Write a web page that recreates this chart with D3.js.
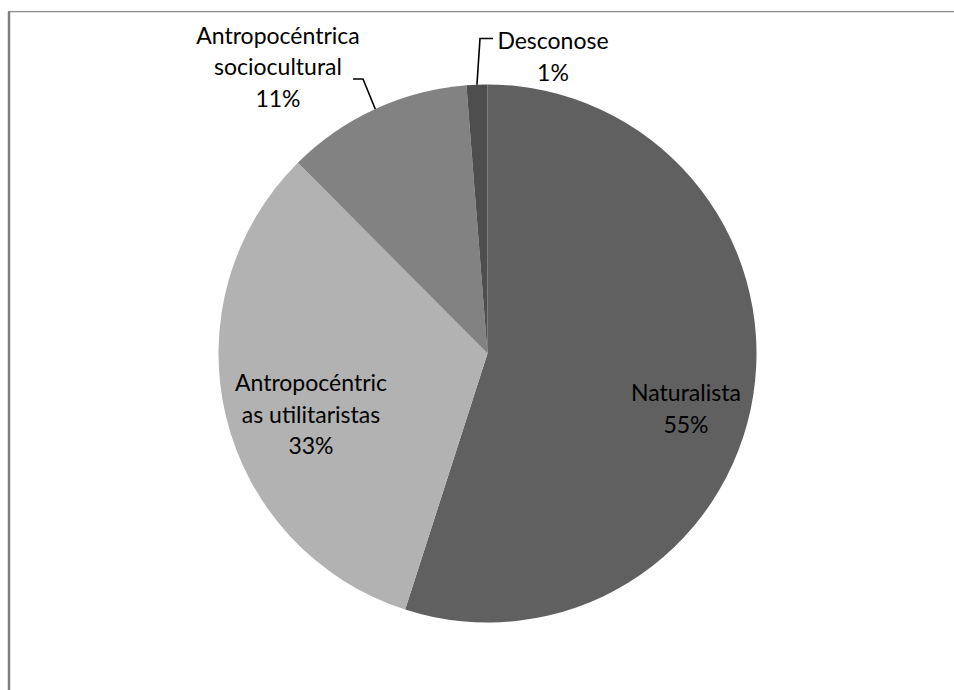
<!DOCTYPE html>
<html>
<head>
<meta charset="utf-8">
<script src="https://cdn.jsdelivr.net/npm/d3@7"></script>
<style>
  html, body { margin: 0; padding: 0; background: #fff; }
  svg { display: block; }
  text { font-family: Lato, "Open Sans", sans-serif; fill: #000; }
</style>
</head>
<body>
<svg id="chart" width="954" height="690"></svg>
<script>
// Share of each conception (percent of answers)
const categories = ["Naturalista", "Antropocéntricas utilitaristas", "Antropocéntrica sociocultural", "Desconose"];
const shares = [54.95, 32.6, 11.2, 1.25];
const colors = ["#606060", "#b2b2b2", "#828282", "#4e4e4e"];
// Label text lines per slice (the percentage line is appended from the data)
const labelLines = [
  ["Naturalista"],
  ["Antropocéntric", "as utilitaristas"],
  ["Antropocéntrica", "sociocultural"],
  ["Desconose"]
];

const W = 954, H = 690;
const cx = 487.5, cy = 353.5, R = 269;
const fontSize = 23, lineH = 31.5;

const svg = d3.select("#chart");

// chart frame
svg.append("line").attr("x1", 9).attr("y1", 11.5).attr("x2", 9).attr("y2", H)
  .attr("stroke", "#7f7f7f").attr("stroke-width", 2.5);
svg.append("line").attr("x1", 8).attr("y1", 11.6).attr("x2", W).attr("y2", 11.6)
  .attr("stroke", "#8c8c8c").attr("stroke-width", 1.4);

const data = categories.map((c, i) => ({ name: c, value: shares[i], lines: labelLines[i], color: colors[i] }));
const total = d3.sum(data, d => d.value);

const pie = d3.pie().value(d => d.value).sort(null).startAngle(0).endAngle(2 * Math.PI);
const arcs = pie(data);

const arc = d3.arc().innerRadius(0).outerRadius(R);
const edgeArc = d3.arc().innerRadius(R).outerRadius(R);

const g = svg.append("g").attr("transform", `translate(${cx},${cy})`);

g.selectAll("path.slice").data(arcs).join("path")
  .attr("class", "slice")
  .attr("d", arc)
  .attr("fill", d => d.data.color);

// label placement: inside labels are at fixed spots, outside ones get leader lines
const labelPos = [
  { x: 686, y: 401, inside: true },
  { x: 311, y: 391, inside: true },
  { x: 278, y: 43.5, inside: false, leader: pt => [[353, 79], [363, 79], pt] },
  { x: 553, y: 49, inside: false, leader: pt => [[493, 38.5], [480, 38.5], pt] }
];

const pct = d => Math.round(d.value / total * 100) + "%";

arcs.forEach((a, i) => {
  const p = labelPos[i];
  if (!p.inside) {
    const c = edgeArc.centroid(a);
    const pt = [c[0] + cx, c[1] + cy];
    svg.append("path")
      .attr("d", d3.line()(p.leader(pt)))
      .attr("fill", "none")
      .attr("stroke", "#000")
      .attr("stroke-width", 1.6);
  }
  const lines = a.data.lines.concat([pct(a.data)]);
  const t = svg.append("text")
    .attr("text-anchor", "middle")
    .attr("font-size", fontSize);
  lines.forEach((ln, k) => {
    t.append("tspan").attr("x", p.x).attr("y", p.y + k * lineH).text(ln);
  });
});
</script>
</body>
</html>
